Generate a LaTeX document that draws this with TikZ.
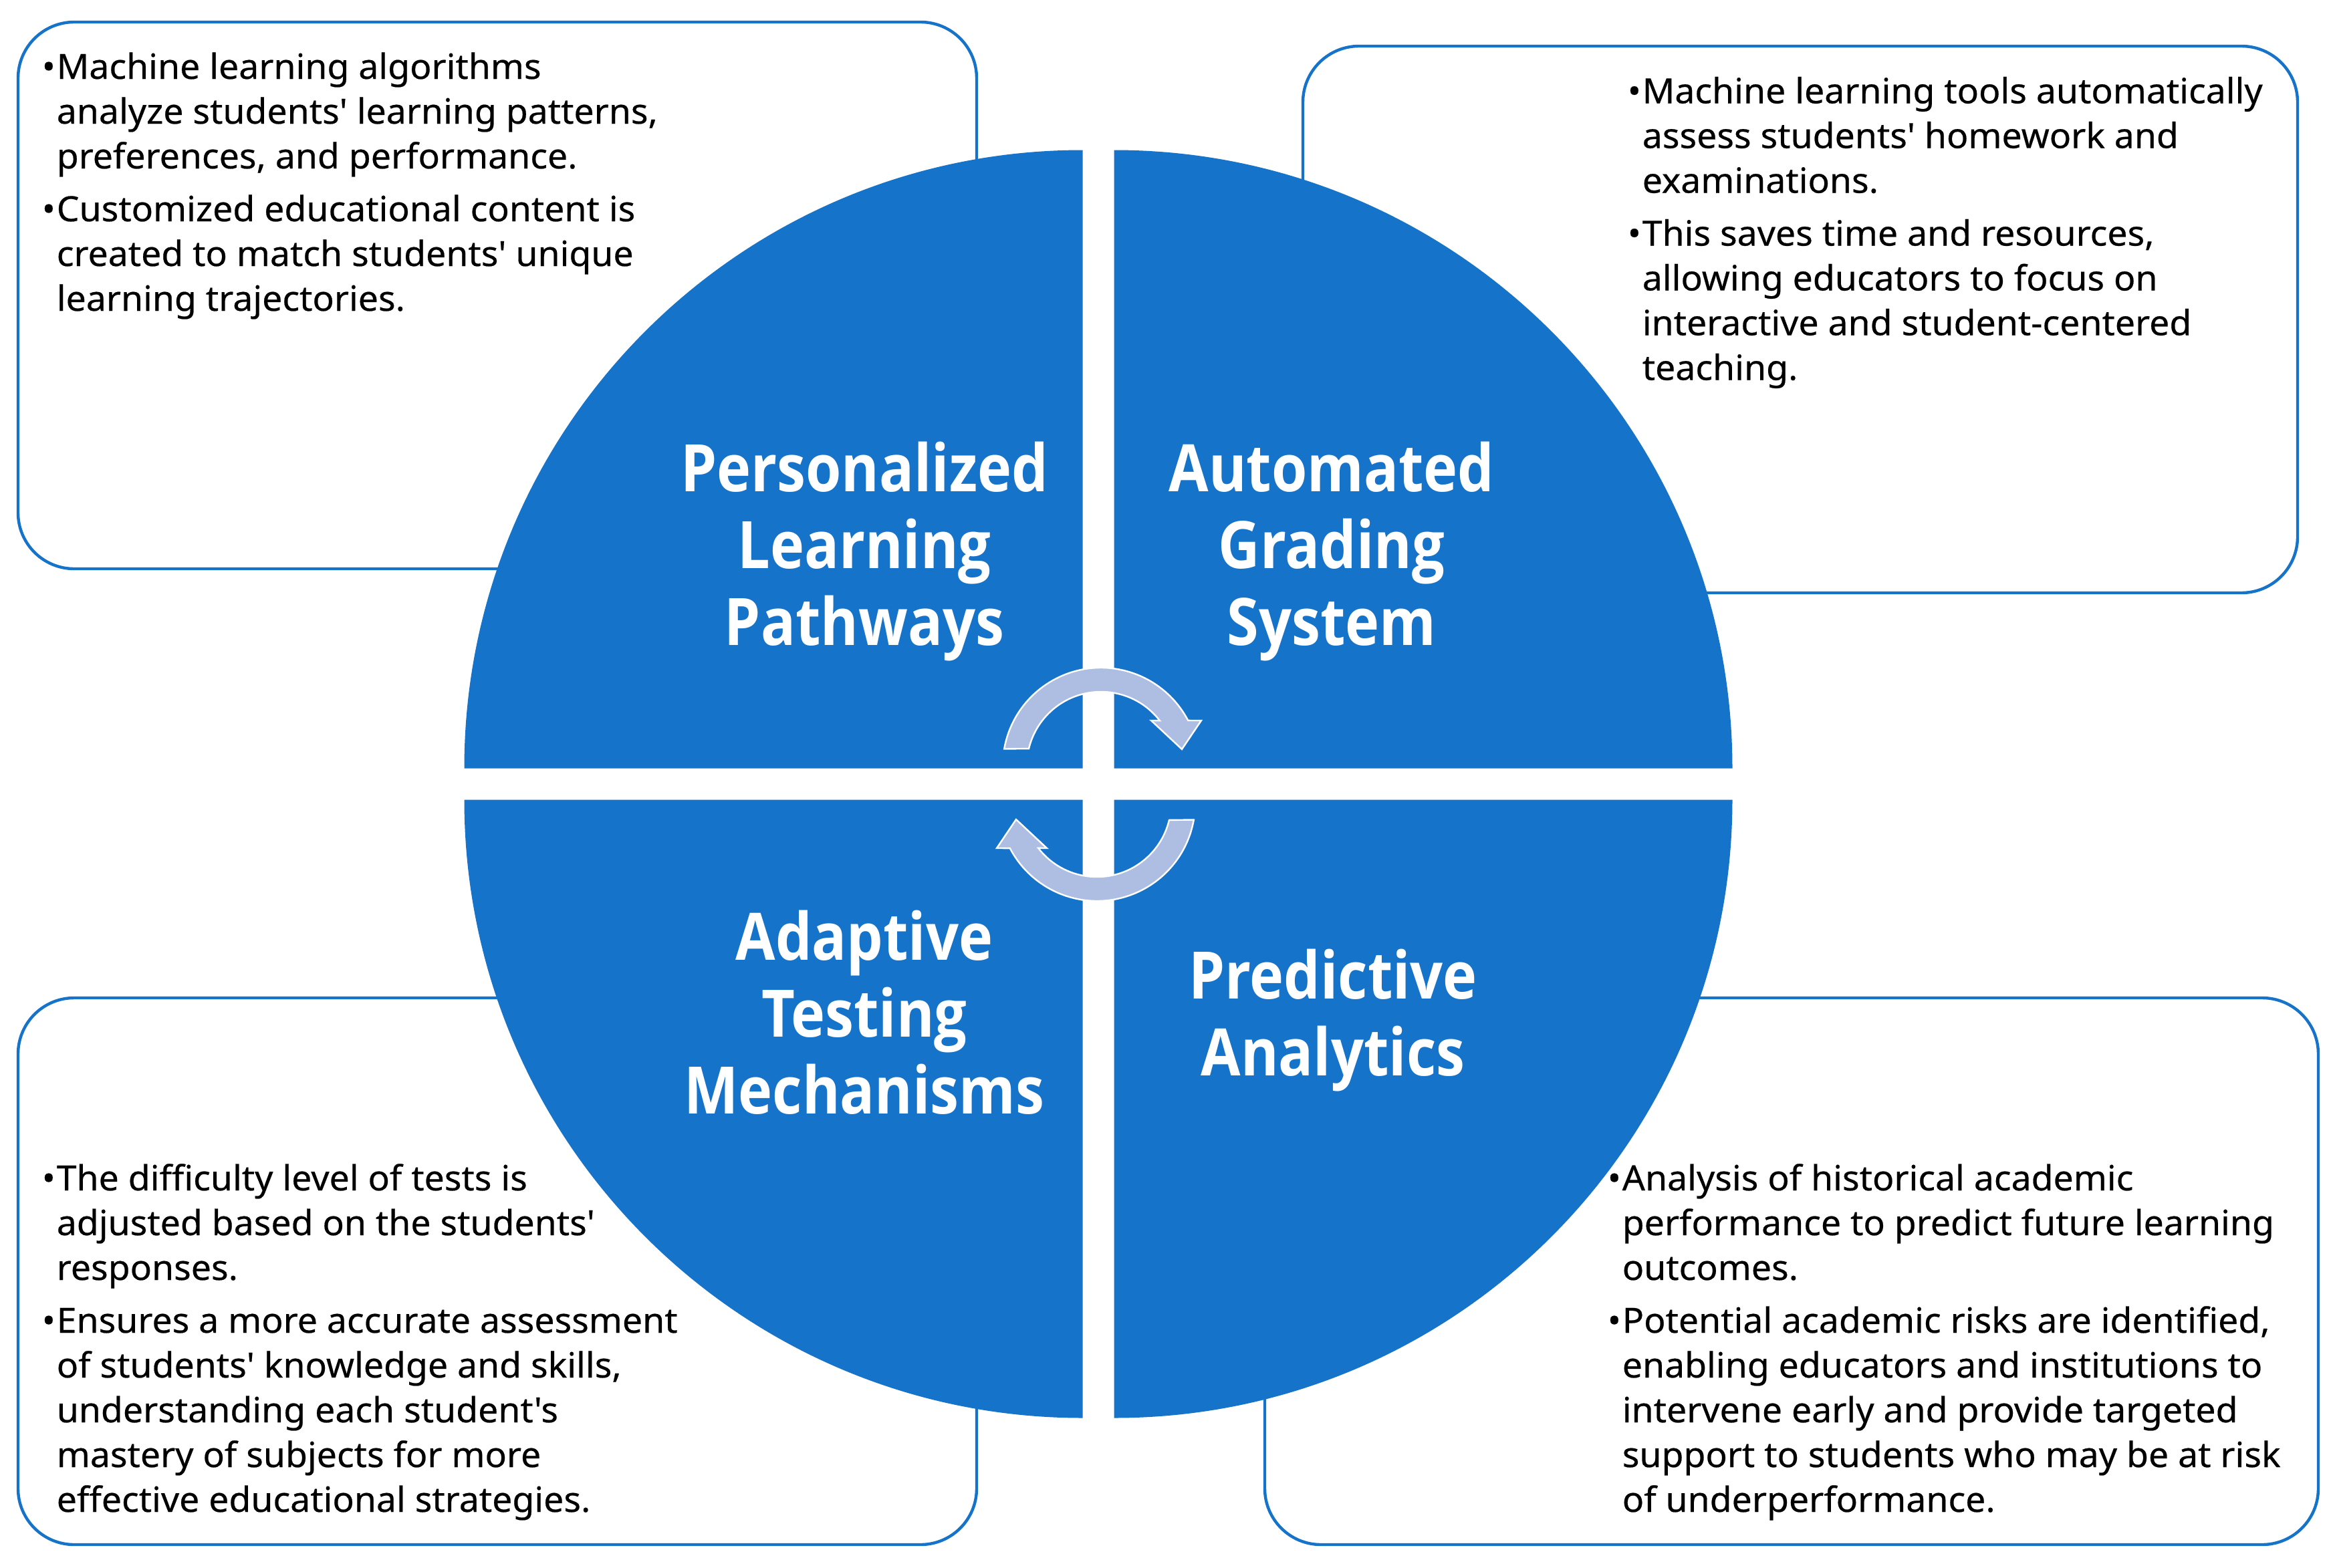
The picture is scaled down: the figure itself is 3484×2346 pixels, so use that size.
\documentclass[tikz,border=0pt]{standalone}
\usepackage{fontspec}
\setmainfont{Noto Sans}[Ligatures=TeXOff,FakeStretch=1.03,FakeBold=0.4]
\newfontfamily\titlefont{Open Sans}[Ligatures=TeXOff,FakeStretch=0.88]
\definecolor{qblue}{RGB}{22,115,202}
\definecolor{arrowfill}{RGB}{174,189,226}
\newcommand\Bl{\makebox[5.5pt][l]{\char"2022}}
\newcommand\In{\hspace*{5.5pt}}
\begin{document}
\begin{tikzpicture}[x=0.25pt,y=0.25pt,
  infobox/.style={draw=qblue,line width=1.1pt,rounded corners=21pt,fill=white},
  quadrant/.style={fill=qblue,draw=none},
  cyclearrow/.style={fill=arrowfill,draw=white,line width=0.6pt,line join=miter},
  title/.style={text=white,font=\titlefont\fontsize{24.5}{28.75}\bfseries\selectfont,inner sep=0pt,anchor=base},
  body/.style={text=black,font=\fontsize{13}{16.75}\selectfont,inner sep=0pt,anchor=base west}]
\useasboundingbox (0,0) rectangle (3484,-2346);
\fill[white] (0,0) rectangle (3484,-2346);
% boxes
\draw[infobox] (27,-33) rectangle (1461,-851);
\draw[infobox] (1949,-69) rectangle (3437,-887);
\draw[infobox] (27,-1493) rectangle (1461,-2311);
\draw[infobox] (1892,-1493) rectangle (3468,-2311);
% quadrants
\fill[quadrant] (1619.5,-1149.5) -- (694.5,-1149.5) arc[start angle=180,end angle=90,radius=925] -- cycle;
\fill[quadrant] (1666.5,-1149.5) -- (1666.5,-224.5) arc[start angle=90,end angle=0,radius=925] -- cycle;
\fill[quadrant] (1619.5,-1196.5) -- (694.5,-1196.5) arc[start angle=180,end angle=270,radius=925] -- cycle;
\fill[quadrant] (1666.5,-1196.5) -- (2591.5,-1196.5) arc[start angle=0,end angle=-90,radius=925] -- cycle;
% cycle arrows
\foreach \ang in {0,180}{
  \draw[cyclearrow,rotate around={\ang:(1644,-1173.5)}]
    (1502.2,-1120.5) arc[start angle=170,end angle=27.6,radius=147]
    -- (1797,-1078) -- (1768,-1121) -- (1722,-1078) -- (1734.8,-1078.1)
    arc[start angle=37.7,end angle=166.5,radius=111] -- cycle;
}
% titles
\node[title] (pl) at (1293,-735) {\begin{tabular}[t]{@{}c@{}}Personalized\\Learning\\Pathways\end{tabular}};
\node[title] (ag) at (1992,-735) {\begin{tabular}[t]{@{}c@{}}Automated\\Grading\\System\end{tabular}};
\node[title] (at) at (1293,-1436) {\begin{tabular}[t]{@{}c@{}}Adaptive\\Testing\\Mechanisms\end{tabular}};
\node[title] (pa) at (1994,-1494) {\begin{tabular}[t]{@{}c@{}}Predictive\\Analytics\end{tabular}};
% body texts
\node[body] (tltext) at (62,-118) {\begin{tabular}[t]{@{}l@{}}
\Bl Machine learning algorithms\\
\In analyze students' learning patterns,\\
\In preferences, and performance.\\[3pt]
\Bl Customized educational content is\\
\In created to match students' unique\\
\In learning trajectories.\end{tabular}};
\node[body] (trtext) at (2434,-154.5) {\begin{tabular}[t]{@{}l@{}}
\Bl Machine learning tools automatically\\
\In assess students' homework and\\
\In examinations.\\[3pt]
\Bl This saves time and resources,\\
\In allowing educators to focus on\\
\In interactive and student-centered\\
\In teaching.\end{tabular}};
\node[body] (bltext) at (62,-1781) {\begin{tabular}[t]{@{}l@{}}
\Bl The difficulty level of tests is\\
\In adjusted based on the students'\\
\In responses.\\[3pt]
\Bl Ensures a more accurate assessment\\
\In of students' knowledge and skills,\\
\In understanding each student's\\
\In mastery of subjects for more\\
\In effective educational strategies.\end{tabular}};
\node[body] (brtext) at (2404,-1781) {\begin{tabular}[t]{@{}l@{}}
\Bl Analysis of historical academic\\
\In performance to predict future learning\\
\In outcomes.\\[3pt]
\Bl Potential academic risks are identified,\\
\In enabling educators and institutions to\\
\In intervene early and provide targeted\\
\In support to students who may be at risk\\
\In of underperformance.\end{tabular}};
\end{tikzpicture}
\end{document}
